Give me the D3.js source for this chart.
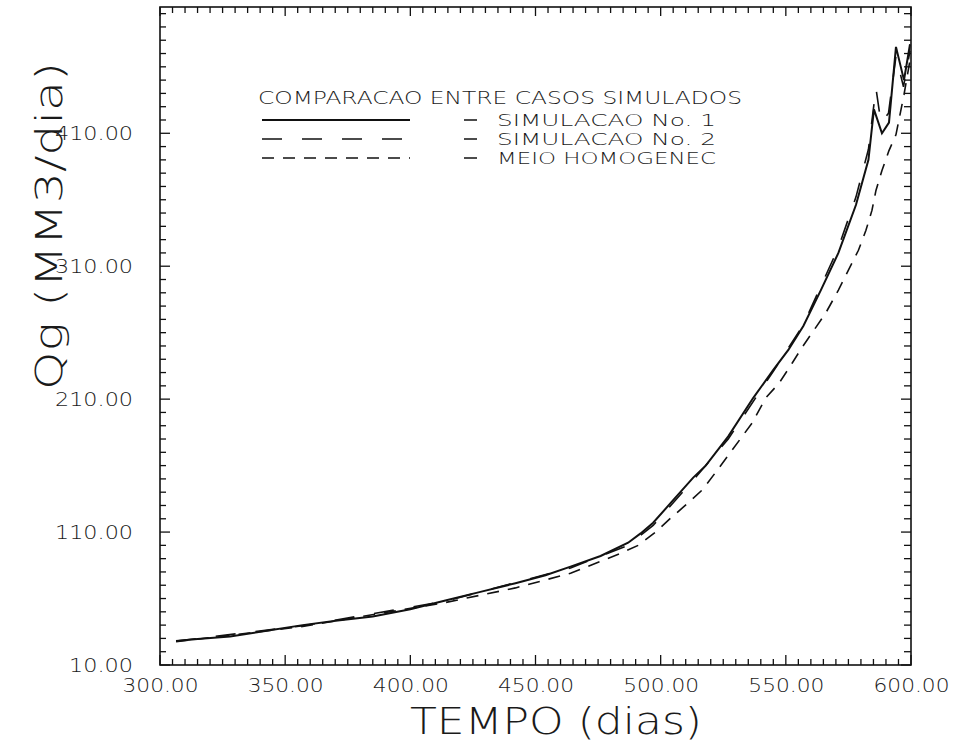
<!DOCTYPE html>
<html>
<head>
<meta charset="utf-8">
<script src="https://cdn.jsdelivr.net/npm/d3@7"></script>
<style>
  body { margin: 0; background: #fff; }
  text { font-family: "DejaVu Sans", sans-serif; font-weight: 200; fill: #1a1a1a; }
</style>
</head>
<body>
<svg id="chart" width="954" height="750"></svg>
<script>
// Gas rate Qg (MM3/dia) against time (dias) for the three simulated cases
const tempoSim1 = [306.4, 315, 328, 342, 357, 371, 385, 400, 414, 428, 442, 454, 464, 476, 487, 492, 497, 505, 513, 518, 527, 537, 545, 551, 557, 564, 571, 578, 583, 585.2, 588.4, 591.2, 594, 597.2, 599.6];
const qgSim1    = [28, 29.5, 31.5, 35.5, 40, 43.5, 46.5, 52, 58.5, 65, 71.5, 77.5, 84, 92, 102, 109, 117, 134, 151, 160, 182, 211, 232, 247, 265, 292, 320, 356, 390, 428, 410, 418, 475, 450, 477];

const tempoSim2 = [306.4, 357, 414, 464, 487, 497, 513, 527, 545, 557, 571, 578, 583, 586, 588, 591, 594, 597, 599.6];
const qgSim2    = [28, 39.5, 58, 83, 100, 115, 149, 180, 231, 266, 324, 362, 398, 444, 418, 425, 468, 445, 472];

const tempoHomog = [306.4, 357, 414, 442, 464, 484, 491, 498, 504, 511, 516.6, 522, 528.6, 536.5, 542, 547.3, 552.5, 556.5, 562, 566, 571, 575, 579, 582, 584.4, 586, 588.4, 591.2, 594, 597.2, 599.6];
const qgHomog    = [27.5, 39, 57, 68, 79, 94, 100, 110, 120.5, 132, 141.7, 155, 171.8, 192, 211, 222, 237, 249, 264, 275, 292, 307, 322, 337, 352, 367, 382, 397, 409, 439, 465];

const xTickValues = [300, 350, 400, 450, 500, 550, 600];
const yTickValues = [10, 110, 210, 310, 410];
const legendTitle = "COMPARACAO ENTRE CASOS SIMULADOS";
const seriesNames = ["SIMULACAO No. 1", "SIMULACAO No. 2", "MEIO HOMOGENEC"];
const seriesDash  = [null, "20,20", "12,9"];

const svg = d3.select("#chart");
const x = d3.scaleLinear().domain([300, 600]).range([160, 911]);
const y = d3.scaleLinear().domain([10, 505]).range([665, 7]);

// frame
svg.append("rect")
  .attr("x", x(300)).attr("y", y(505))
  .attr("width", x(600) - x(300)).attr("height", y(10) - y(505))
  .attr("fill", "none").attr("stroke", "#111").attr("stroke-width", 1.6);

// inward ticks on all four sides (longer at labelled values)
const minorX = d3.range(300, 601, 5);
const minorY = d3.range(10, 501, 10);
const isMajorX = v => xTickValues.includes(v);
const isMajorY = v => yTickValues.includes(v);
const ticks = svg.append("g").attr("stroke", "#111").attr("stroke-width", 1.3);
ticks.selectAll("line.xb").data(minorX).join("line").attr("class", "xb")
  .attr("x1", d => x(d)).attr("x2", d => x(d))
  .attr("y1", y(10)).attr("y2", d => y(10) - (isMajorX(d) ? 10 : 6));
ticks.selectAll("line.xt").data(minorX).join("line").attr("class", "xt")
  .attr("x1", d => x(d)).attr("x2", d => x(d))
  .attr("y1", y(505)).attr("y2", d => y(505) + (isMajorX(d) ? 9 : 6));
ticks.selectAll("line.yl").data(minorY).join("line").attr("class", "yl")
  .attr("x1", x(300)).attr("x2", d => x(300) + (isMajorY(d) ? 10 : 6))
  .attr("y1", d => y(d)).attr("y2", d => y(d));
ticks.selectAll("line.yr").data(minorY).join("line").attr("class", "yr")
  .attr("x1", x(600)).attr("x2", d => x(600) - (isMajorY(d) ? 10 : 7))
  .attr("y1", d => y(d)).attr("y2", d => y(d));

function styleAxis(g) {
  g.select(".domain").remove();
  g.selectAll(".tick line").remove();
  g.attr("font-family", null).attr("font-size", null);
}

// tick labels
const fmt = d3.format(".2f");
const xAxisG = svg.append("g").attr("transform", `translate(0,${y(10)})`)
  .call(d3.axisBottom(x).tickValues(xTickValues).tickSize(0).tickPadding(13).tickFormat(fmt))
  .call(styleAxis);
xAxisG.selectAll("text")
  .attr("font-size", 20).attr("textLength", 76).attr("lengthAdjust", "spacingAndGlyphs");

const yAxisG = svg.append("g").attr("transform", `translate(${x(300)},0)`)
  .call(d3.axisLeft(y).tickValues(yTickValues).tickSize(0).tickPadding(27).tickFormat(fmt))
  .call(styleAxis);
yAxisG.selectAll("text")
  .attr("font-size", 20)
  .attr("textLength", d => d < 100 ? 64 : 78).attr("lengthAdjust", "spacingAndGlyphs");

// axis titles
svg.append("text")
  .attr("x", 410).attr("y", 734)
  .attr("font-size", 38).attr("textLength", 292).attr("lengthAdjust", "spacingAndGlyphs")
  .text("TEMPO (dias)");
svg.append("text")
  .attr("transform", "translate(62,390) rotate(-90)")
  .attr("font-size", 38).attr("textLength", 328).attr("lengthAdjust", "spacingAndGlyphs")
  .text("Qg (MM3/dia)");

// series
const line = d3.line().x(d => x(d[0])).y(d => y(d[1]));
const series = [
  d3.zip(tempoSim1, qgSim1),
  d3.zip(tempoSim2, qgSim2),
  d3.zip(tempoHomog, qgHomog)
];
const widths = [2, 1.6, 1.6];
series.forEach((pts, i) => {
  svg.append("path")
    .datum(pts)
    .attr("d", line)
    .attr("fill", "none")
    .attr("stroke", "#111")
    .attr("stroke-width", widths[i])
    .attr("stroke-dasharray", seriesDash[i]);
});

// legend
svg.append("text")
  .attr("x", 258).attr("y", 104)
  .attr("font-size", 18).attr("textLength", 484).attr("lengthAdjust", "spacingAndGlyphs")
  .text(legendTitle);
const rowY = [120, 139, 158];
seriesNames.forEach((name, i) => {
  svg.append("line")
    .attr("x1", 262).attr("x2", 410).attr("y1", rowY[i]).attr("y2", rowY[i])
    .attr("stroke", "#111").attr("stroke-width", widths[i])
    .attr("stroke-dasharray", seriesDash[i]);
  svg.append("line")
    .attr("x1", 464).attr("x2", 477).attr("y1", rowY[i]).attr("y2", rowY[i])
    .attr("stroke", "#111").attr("stroke-width", 1.5);
  svg.append("text")
    .attr("x", 497).attr("y", rowY[i] + 6)
    .attr("font-size", 16).attr("textLength", 219).attr("lengthAdjust", "spacingAndGlyphs")
    .text(name);
});
</script>
</body>
</html>
